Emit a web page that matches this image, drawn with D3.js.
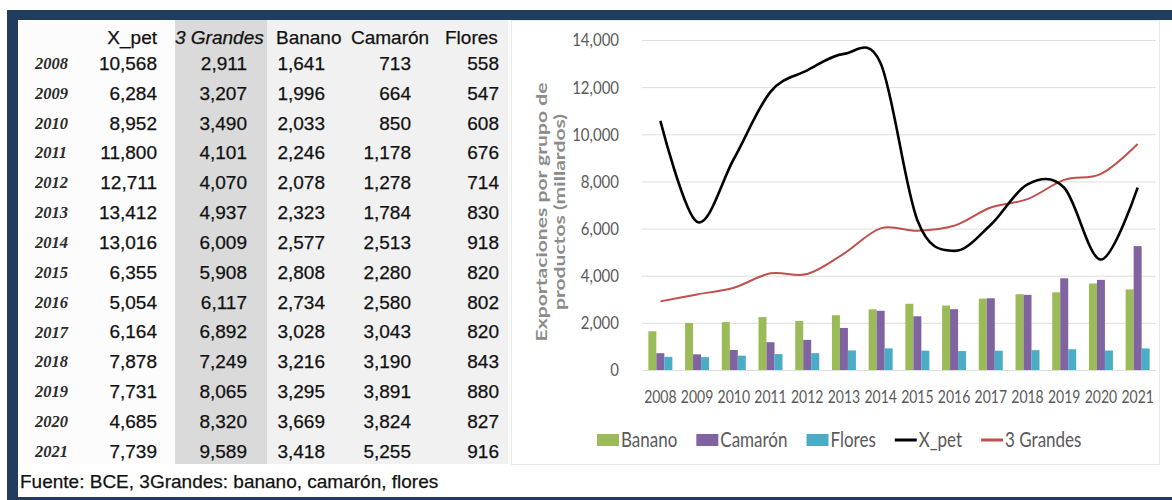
<!DOCTYPE html>
<html>
<head>
<meta charset="utf-8">
<script src="https://cdn.jsdelivr.net/npm/d3@7"></script>
<style>
  html, body { margin: 0; padding: 0; background: #fff; }
  svg { display: block; }
  .tall { transform-box: fill-box; transform-origin: center; transform: scaleY(1.2); }
</style>
</head>
<body>
<svg id="fig" width="1172" height="500"></svg>
<script>
// ---- data (millones USD) ----
const years = [2008, 2009, 2010, 2011, 2012, 2013, 2014, 2015, 2016, 2017, 2018, 2019, 2020, 2021];
const xPet = [10568, 6284, 8952, 11800, 12711, 13412, 13016, 6355, 5054, 6164, 7878, 7731, 4685, 7739];
const tresGrandes = [2911, 3207, 3490, 4101, 4070, 4937, 6009, 5908, 6117, 6892, 7249, 8065, 8320, 9589];
const banano = [1641, 1996, 2033, 2246, 2078, 2323, 2577, 2808, 2734, 3028, 3216, 3295, 3669, 3418];
const camaron = [713, 664, 850, 1178, 1278, 1784, 2513, 2280, 2580, 3043, 3190, 3891, 3824, 5255];
const flores = [558, 547, 608, 676, 714, 830, 918, 820, 802, 820, 843, 880, 827, 916];

const tableHeaders = ["X_pet", "3 Grandes", "Banano", "Camarón", "Flores"];
const barSeries = ["Banano", "Camarón", "Flores"];
const lineSeries = ["X_pet", "3 Grandes"];
const yTicks = [0, 2000, 4000, 6000, 8000, 10000, 12000, 14000];
const axisTitle = ["Exportaciones por grupo de", "productos (millardos)"];
const sourceNote = "Fuente: BCE, 3Grandes: banano, camarón, flores";

const fmt = d3.format(",");
const svg = d3.select("#fig");

// ---- frame ----
const navy = "#213d5e";
svg.append("rect").attr("x", 7).attr("y", 10).attr("width", 1165).attr("height", 10).attr("fill", navy);
svg.append("rect").attr("x", 7).attr("y", 10).attr("width", 11).attr("height", 490).attr("fill", navy);
svg.append("rect").attr("x", 7).attr("y", 497).attr("width", 1165).attr("height", 3).attr("fill", navy);

// ---- table panel ----
const table = svg.append("g");
table.append("rect").attr("x", 18).attr("y", 20).attr("width", 157).attr("height", 444).attr("fill", "#fcfcfc");
table.append("rect").attr("x", 175).attr("y", 20).attr("width", 92).attr("height", 444).attr("fill", "#dadada");
table.append("rect").attr("x", 267).attr("y", 20).attr("width", 241).attr("height", 444).attr("fill", "#f1f1f1");

const rowY = d3.scalePoint().domain(years).range([63, 451]);
const sansFont = "'Liberation Sans', Arial, sans-serif";
const columns = [xPet, tresGrandes, banano, camaron, flores];
const colRight = [157, 247, 325, 411, 499];
const headerPos = [
  { x: 157, anchor: "end", italic: false },
  { x: 175, anchor: "start", italic: true },
  { x: 276, anchor: "start", italic: false },
  { x: 351, anchor: "start", italic: false },
  { x: 445, anchor: "start", italic: false }
];

table.selectAll("text.hdr").data(tableHeaders).join("text")
  .attr("class", "hdr")
  .attr("x", (d, i) => headerPos[i].x)
  .attr("y", 37)
  .attr("dy", "0.36em")
  .attr("text-anchor", (d, i) => headerPos[i].anchor)
  .attr("font-style", (d, i) => headerPos[i].italic ? "italic" : "normal")
  .attr("font-family", sansFont)
  .attr("font-size", 19)
  .attr("fill", "#111")
  .attr("stroke", "#111").attr("stroke-width", 0.25)
  .text(d => d);

table.selectAll("text.yr").data(years).join("text")
  .attr("class", "yr")
  .attr("x", 35)
  .attr("y", d => rowY(d))
  .attr("dy", "0.36em")
  .attr("font-family", "'Liberation Serif', 'Times New Roman', serif")
  .attr("font-style", "italic")
  .attr("font-weight", "bold")
  .attr("font-size", 16.5)
  .attr("fill", "#2b2b2b")
  .text(d => d);

columns.forEach((col, c) => {
  table.append("g").selectAll("text").data(col).join("text")
    .attr("x", colRight[c])
    .attr("y", (d, i) => rowY(years[i]))
    .attr("dy", "0.36em")
    .attr("text-anchor", "end")
    .attr("font-family", sansFont)
    .attr("font-size", 19)
    .attr("fill", "#111")
    .attr("stroke", "#111").attr("stroke-width", 0.25)
    .text(d => fmt(d));
});

svg.append("text")
  .attr("x", 20).attr("y", 481).attr("dy", "0.36em")
  .attr("font-family", sansFont).attr("font-size", 19).attr("fill", "#111")
  .attr("stroke", "#111").attr("stroke-width", 0.25)
  .text(sourceNote);

// ---- chart panel ----
svg.append("rect").attr("x", 511.5).attr("y", 20.5).attr("width", 648).attr("height", 444)
  .attr("fill", "#fff").attr("stroke", "#e9e9e9");

const plotLeft = 642, plotRight = 1156, plotTop = 40, plotBottom = 370;
const x = d3.scaleBand().domain(years).range([plotLeft, plotRight]);
const y = d3.scaleLinear().domain([0, 14000]).range([plotBottom, plotTop]);
const xSub = d3.scaleBand().domain(barSeries).range([-12, 12]);
const colors = { "Banano": "#9bbb59", "Camarón": "#8064a2", "Flores": "#4bacc6", "X_pet": "#000000", "3 Grandes": "#c0504d" };
const barValues = { "Banano": banano, "Camarón": camaron, "Flores": flores };
const cx = d => x(d) + x.bandwidth() / 2;
const chartFont = "Lato, 'Open Sans', sans-serif";

// gridlines
svg.append("g").attr("transform", `translate(${plotLeft},0)`)
  .call(d3.axisLeft(y).tickValues(yTicks).tickSize(-(plotRight - plotLeft)).tickFormat(""))
  .call(g => g.select(".domain").remove())
  .call(g => g.selectAll("line").attr("stroke", "#dedede").attr("stroke-width", 1));

// y tick labels
svg.append("g").attr("transform", `translate(${plotLeft},0)`)
  .call(d3.axisLeft(y).tickValues(yTicks).tickSize(0).tickPadding(23).tickFormat(fmt))
  .call(g => g.select(".domain").remove())
  .call(g => g.selectAll("text")
    .attr("class", "tall")
    .attr("font-family", chartFont).attr("font-size", 15).attr("fill", "#595959"));

// x labels
svg.append("g").attr("transform", `translate(0,${plotBottom})`)
  .call(d3.axisBottom(x).tickSize(0).tickPadding(0))
  .call(g => g.select(".domain").remove())
  .call(g => g.selectAll("text")
    .attr("class", "tall")
    .attr("y", 27).attr("dy", "0.35em")
    .attr("font-family", chartFont).attr("font-size", 14).attr("fill", "#595959"));

// bars
barSeries.forEach(s => {
  svg.append("g").selectAll("rect").data(barValues[s]).join("rect")
    .attr("x", (d, i) => cx(years[i]) + xSub(s))
    .attr("y", d => y(d))
    .attr("width", xSub.bandwidth())
    .attr("height", d => y(0) - y(d))
    .attr("fill", colors[s]);
});

// smoothed lines
const line = d3.line()
  .x((d, i) => cx(years[i]))
  .y(d => y(d))
  .curve(d3.curveCardinal.tension(0));
svg.append("path").datum(tresGrandes).attr("d", line)
  .attr("fill", "none").attr("stroke", colors["3 Grandes"]).attr("stroke-width", 2);
svg.append("path").datum(xPet).attr("d", line)
  .attr("fill", "none").attr("stroke", colors["X_pet"]).attr("stroke-width", 2.6);

// y axis title
axisTitle.forEach((t, i) => {
  svg.append("g").attr("transform", `translate(${541 + i * 18},212) rotate(-90)`)
    .append("text")
    .attr("transform", "scale(1.32,1)")
    .attr("text-anchor", "middle")
    .attr("dy", "0.35em")
    .attr("font-family", chartFont)
    .attr("font-size", 16)
    .attr("font-weight", "bold")
    .attr("fill", "#8c8c8c")
    .text(t);
});

// legend
const legend = svg.append("g");
let lx = 597;
const ly = 440;
barSeries.concat(lineSeries).forEach(s => {
  const item = legend.append("g");
  if (barSeries.includes(s)) {
    item.append("rect").attr("x", lx).attr("y", ly - 6).attr("width", 22).attr("height", 12).attr("fill", colors[s]);
  } else {
    item.append("line").attr("x1", lx).attr("x2", lx + 22).attr("y1", ly).attr("y2", ly)
      .attr("stroke", colors[s]).attr("stroke-width", 3);
  }
  const txt = item.append("text")
    .attr("class", "tall")
    .attr("x", lx + 24).attr("y", ly).attr("dy", "0.35em")
    .attr("font-family", chartFont).attr("font-size", 17).attr("fill", "#595959")
    .text(s);
  lx += 24 + txt.node().getComputedTextLength() + 19;
});
</script>
</body>
</html>
